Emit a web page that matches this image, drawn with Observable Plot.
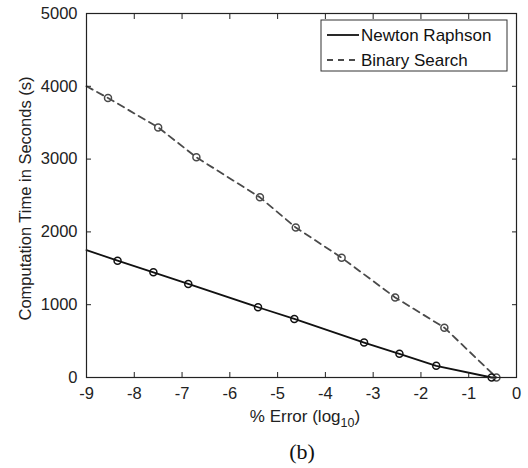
<!DOCTYPE html>
<html>
<head>
<meta charset="utf-8">
<script src="https://cdn.jsdelivr.net/npm/d3@7"></script>
<script src="https://cdn.jsdelivr.net/npm/@observablehq/plot@0.6"></script>
<style>
  html, body { margin: 0; padding: 0; background: #fff; }
  #chart svg { font-family: "Liberation Sans", Arial, sans-serif; }
</style>
</head>
<body>
<div id="chart"></div>
<script>
// ---- data ----
const seriesNames = ["Newton Raphson", "Binary Search"];
const newtonX = [-9, -8.35, -7.6, -6.87, -5.41, -4.65, -3.19, -2.45, -1.68, -0.52];
const newtonY = [1750, 1605, 1445, 1285, 965, 805, 480, 325, 160, 0];
const binaryX = [-9, -8.55, -7.5, -6.7, -5.37, -4.62, -3.66, -2.54, -1.51, -0.42];
const binaryY = [4000, 3840, 3435, 3025, 2475, 2060, 1645, 1100, 685, 0];
const xTicks = [-9, -8, -7, -6, -5, -4, -3, -2, -1, 0];
const yTicks = [0, 1000, 2000, 3000, 4000, 5000];
const yLabel = "Computation Time in Seconds (s)";
const xLabel = "% Error (log";
const xLabelSub = "10";
const caption = "(b)";

const newton = newtonX.map((x, i) => ({x, y: newtonY[i], marker: i > 0}));
const binary = binaryX.map((x, i) => ({x, y: binaryY[i], marker: i > 0}));

const W = 528, H = 468;
const mL = 86, mR = 12, mT = 13, mB = 91;
const fmt = d => String(d);

const plot = Plot.plot({
  width: W, height: H,
  marginLeft: mL, marginRight: mR, marginTop: mT, marginBottom: mB,
  style: {fontFamily: "Liberation Sans, Arial, sans-serif", fontSize: "16px", color: "#222", background: "#fff"},
  x: {domain: [-9, 0]},
  y: {domain: [0, 5000]},
  marks: [
    Plot.line(binary, {x: "x", y: "y", stroke: "#4a4a4a", strokeWidth: 1.8, strokeDasharray: "7,5"}),
    Plot.dot(binary.filter(d => d.marker), {x: "x", y: "y", r: 3.5, stroke: "#4a4a4a", strokeWidth: 1.5, fill: "none"}),
    Plot.line(newton, {x: "x", y: "y", stroke: "#111", strokeWidth: 1.8}),
    Plot.dot(newton.filter(d => d.marker), {x: "x", y: "y", r: 3.5, stroke: "#111", strokeWidth: 1.5, fill: "none"}),
    Plot.frame({stroke: "#222", strokeWidth: 1.2}),
    Plot.axisX({ticks: xTicks, tickFormat: fmt, tickSize: -5, tickPadding: 15, label: null, stroke: "#222", fill: "#222", fontSize: 16.5}),
    Plot.axisX({ticks: xTicks, anchor: "top", tickSize: -5, tickFormat: () => "", label: null, stroke: "#222"}),
    Plot.axisY({ticks: yTicks, tickFormat: fmt, tickSize: -5, tickPadding: 14, label: null, stroke: "#222", fill: "#222", fontSize: 16.5}),
    Plot.axisY({ticks: yTicks, anchor: "right", tickSize: -5, tickFormat: () => "", label: null, stroke: "#222"}),
    Plot.text([yLabel], {frameAnchor: "left", dx: -61, dy: 3, rotate: -90, textAnchor: "middle", fontSize: 16.5, fill: "#222"})
  ]
});

document.getElementById("chart").appendChild(plot);

// x label with subscript, caption, legend
const svg = d3.select(plot);
const cx = mL + (W - mL - mR) / 2;
const xl = svg.append("text")
  .attr("x", cx + 4).attr("y", H - mB + 45)
  .attr("text-anchor", "middle")
  .attr("font-size", 17).attr("fill", "#222")
  .attr("font-family", "Liberation Sans, Arial, sans-serif");
xl.append("tspan").text(xLabel);
xl.append("tspan").attr("dy", 5).attr("font-size", 12.5).text(xLabelSub);
xl.append("tspan").attr("dy", -5).text(")");

svg.append("text")
  .attr("x", cx + 1).attr("y", H - 9)
  .attr("text-anchor", "middle")
  .attr("font-size", 22).attr("fill", "#111")
  .attr("font-family", "Liberation Serif, Times New Roman, serif")
  .text(caption);

const lg = svg.append("g").attr("transform", "translate(321,20)");
lg.append("rect").attr("width", 186).attr("height", 51).attr("fill", "#fff").attr("stroke", "#333").attr("stroke-width", 1);
lg.append("line").attr("x1", 6).attr("x2", 38).attr("y1", 15).attr("y2", 15).attr("stroke", "#111").attr("stroke-width", 1.8);
lg.append("line").attr("x1", 6).attr("x2", 38).attr("y1", 40).attr("y2", 40).attr("stroke", "#4a4a4a").attr("stroke-width", 1.8).attr("stroke-dasharray", "6,5");
lg.selectAll("text.lab").data(seriesNames).join("text")
  .attr("x", 40).attr("y", (d, i) => 15 + 25 * i)
  .attr("dy", "0.36em")
  .attr("text-anchor", "start")
  .attr("font-size", 17).attr("fill", "#111")
  .attr("font-family", "Liberation Sans, Arial, sans-serif")
  .text(d => d);
</script>
</body>
</html>
